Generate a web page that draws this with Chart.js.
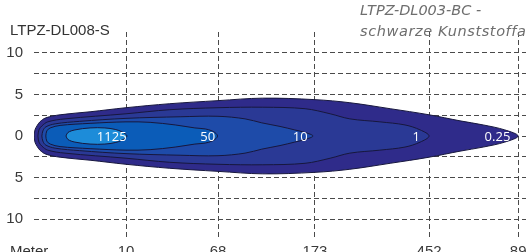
<!DOCTYPE html>
<html>
<head>
<meta charset="utf-8">
<script src="https://cdn.jsdelivr.net/npm/chart.js@4.4.1/dist/chart.umd.min.js"></script>
<style>
  html, body { margin: 0; padding: 0; background: #fff; overflow: hidden; }
  canvas { display: block; }
</style>
</head>
<body>
<canvas id="chart" width="526" height="252"></canvas>
<script>
// isolux levels (lux), outermost first
const levels = ['0.25', '1', '10', '50', '1125'];

// contour outlines: position along the beam (plot units 0-100) and half width (m)
const pos025 = [0, 0.2, 0.6, 1.2, 2.4, 5.3, 11.4, 18.7, 27.6, 37.4, 46.5, 57.1, 64.2, 72.4, 80.3, 86.6, 91.3, 95.7, 98.4];
const half025 = [0, 0.73, 1.21, 1.70, 2.18, 2.55, 2.91, 3.40, 3.88, 4.25, 4.55, 4.37, 4.00, 3.28, 2.55, 1.82, 1.33, 0.73, 0];

const pos1 = [0.8, 1.0, 1.6, 2.8, 6.3, 18.7, 27.6, 37.4, 46.5, 55.1, 60.2, 64.2, 70.3, 75.4, 78.5, 80.3];
const half1 = [0, 0.73, 1.21, 1.70, 2.06, 2.67, 3.16, 3.40, 3.46, 3.28, 2.67, 2.06, 1.70, 1.33, 0.73, 0];

const pos10 = [1.6, 1.8, 2.4, 4.3, 9.3, 18.7, 29.7, 37.4, 42.9, 46.3, 50.0, 53.0, 55.1, 56.7];
const half10 = [0, 0.61, 1.09, 1.46, 1.76, 2.12, 2.31, 2.37, 2.06, 1.58, 1.15, 0.73, 0.42, 0];

const pos50 = [2.4, 2.6, 3.3, 5.3, 11.4, 18.7, 23.6, 28.7, 32.7, 34.8, 36.2, 37.0, 37.3];
const half50 = [0, 0.61, 0.97, 1.27, 1.52, 1.70, 1.64, 1.33, 0.97, 0.85, 0.61, 0.30, 0];

const pos1125 = [6.5, 6.9, 8.3, 11.4, 14.4, 16.5, 17.9, 18.9];
const half1125 = [0, 0.42, 0.73, 0.97, 0.97, 0.79, 0.49, 0];

// where each level value is written
const levelLabelAt = [94.2, 77.7, 54.1, 35.3, 15.8];

// distance axis (m) and lateral axis (m)
const xTickPos = [18.7, 37.4, 57.1, 80.3, 98.4];
const xTickLabels = ['10', '68', '173', '452', '89'];
const yTicks = [10, 7.5, 5, 2.5, 0, -2.5, -5, -7.5, -10];
const yTickLabels = ['10', '', '5', '', '0', '', '5', '', '10'];

const contours = [
  [pos025, half025],
  [pos1, half1],
  [pos10, half10],
  [pos50, half50],
  [pos1125, half1125],
];
const fills = ['#2f2b8a', '#2a3995', '#1e4ba9', '#0b5cb8', '#1d8cd9'];

// closed outline: upper edge left to right, lower edge back again
function outline(xs, ws) {
  const pts = [];
  for (let i = 0; i < xs.length; i++) pts.push({ x: xs[i], y: ws[i] });
  for (let i = xs.length - 2; i >= 0; i--) pts.push({ x: xs[i], y: -ws[i] });
  return pts;
}

const datasets = contours.map((c, i) => ({
  label: levels[i] + ' lx',
  data: outline(c[0], c[1]),
  showLine: true,
  fill: 'shape',
  backgroundColor: fills[i],
  borderColor: '#17173d',
  borderWidth: 1,
  pointRadius: 0,
  tension: 0.35,
  order: contours.length - i, // outer ones drawn first
}));

const textPlugin = {
  id: 'texts',
  afterDraw(chart) {
    const { ctx } = chart;
    const x = chart.scales.x;
    const y = chart.scales.y;
    ctx.save();

    // level values on the beam
    ctx.fillStyle = '#ffffff';
    ctx.font = '13px "Open Sans"';
    ctx.textAlign = 'center';
    ctx.textBaseline = 'middle';
    levels.forEach((lv, i) => {
      ctx.fillText(lv, x.getPixelForValue(levelLabelAt[i]), y.getPixelForValue(0) + 1.5);
    });

    // model name
    ctx.fillStyle = '#333333';
    ctx.textAlign = 'left';
    ctx.textBaseline = 'alphabetic';
    ctx.font = '15px "Liberation Sans Narrow", "Liberation Sans"';
    ctx.fillText('LTPZ-DL008-S', 10, 35);

    // unit label in line with the distance ticks
    ctx.font = '15px "Liberation Sans"';
    ctx.textBaseline = 'middle';
    ctx.fillText('Meter', 10, x.top + 3 + 9);

    // cover note
    ctx.fillStyle = '#6e6e6e';
    ctx.textBaseline = 'alphabetic';
    ctx.font = 'italic 14.5px "DejaVu Sans"';
    ctx.fillText('LTPZ-DL003-BC -', 360, 15);
    ctx.letterSpacing = '0.6px';
    ctx.fillText('schwarze Kunststoffa', 360, 36);

    ctx.restore();
  }
};

new Chart(document.getElementById('chart'), {
  type: 'scatter',
  data: { datasets },
  options: {
    responsive: false,
    animation: false,
    devicePixelRatio: 1,
    layout: { padding: { top: 32, left: 0, right: 0, bottom: 0 } },
    plugins: {
      legend: { display: false },
      tooltip: { enabled: false },
    },
    scales: {
      x: {
        type: 'linear',
        min: 0,
        max: 100,
        z: 1,
        afterBuildTicks: (s) => { s.ticks = xTickPos.map(v => ({ value: v })); },
        afterFit: (s) => { s.height = 12; s.paddingLeft = 0; s.paddingRight = 0; },
        ticks: {
          autoSkip: false,
          maxRotation: 0,
          padding: 3,
          color: '#3a3a3a',
          font: { family: 'Liberation Sans', size: 15 },
          callback: (v, i) => xTickLabels[i],
        },
        grid: { color: '#4a4a4a', lineWidth: 1, drawTicks: false },
        border: { display: false, dash: [5, 3] },
      },
      y: {
        type: 'linear',
        min: -12.5,
        max: 12.5,
        z: 1,
        afterBuildTicks: (s) => { s.ticks = yTicks.map(v => ({ value: v })); },
        afterFit: (s) => { s.width = 34; s.paddingTop = 0; s.paddingBottom = 0; },
        ticks: {
          autoSkip: false,
          padding: 11,
          color: '#3a3a3a',
          font: { family: 'Liberation Sans', size: 15 },
          callback: (v, i) => yTickLabels[i],
        },
        grid: { color: '#4a4a4a', lineWidth: 1, drawTicks: false },
        border: { display: false, dash: [5, 3] },
      },
    },
  },
  plugins: [textPlugin],
});
</script>
</body>
</html>
